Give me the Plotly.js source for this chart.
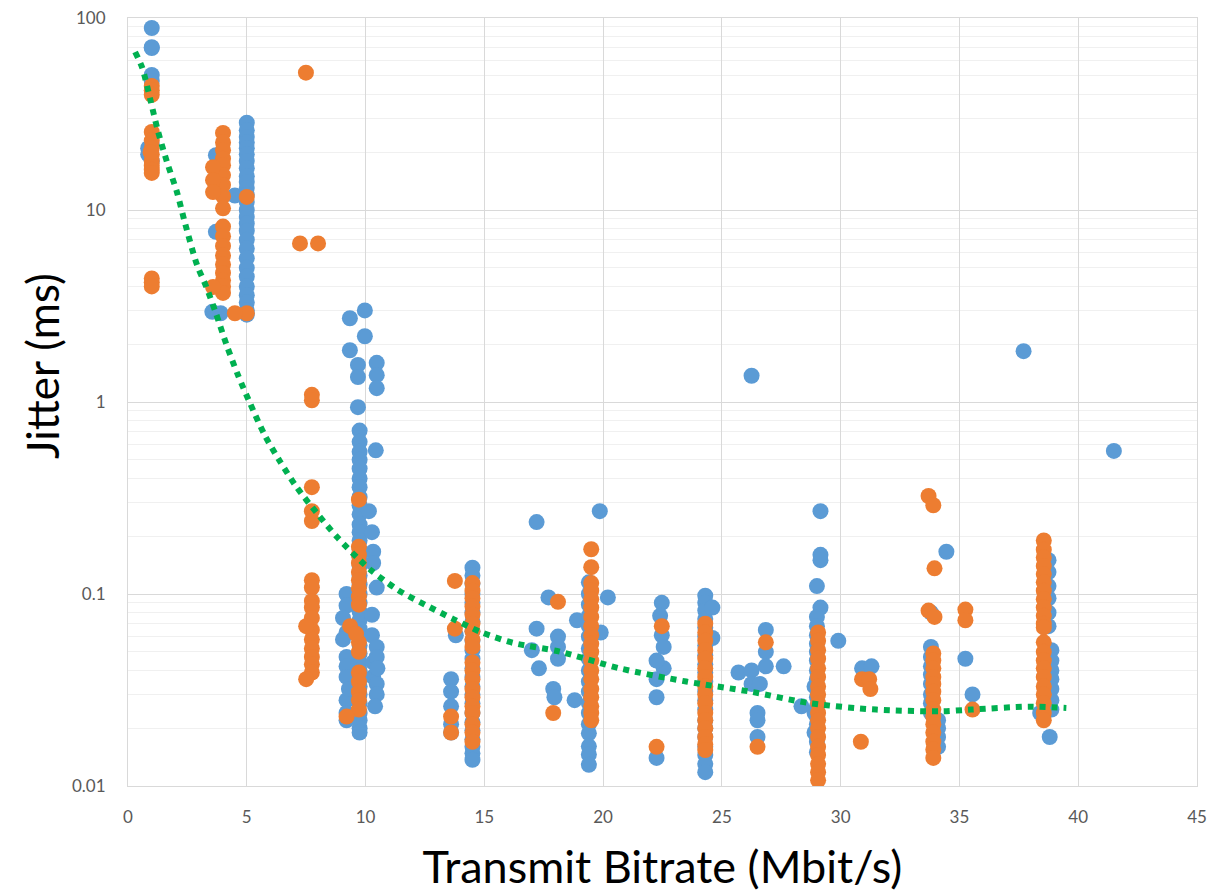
<!DOCTYPE html>
<html>
<head>
<meta charset="utf-8">
<script src="https://cdn.plot.ly/plotly-3.0.1.min.js"></script>
<style>html,body{margin:0;padding:0;background:#fff;}#chart{width:1230px;height:893px;}</style>
</head>
<body>
<div id="chart"></div>
<script>
// ---------- Data ----------
// Series 1 (blue): [x, list of y] groups
const blueGroups = [
  [1.0, [88.7, 69.8, 70.5, 50.5, 47]],
  [0.85, [21, 19.5]],
  [1.0, [22, 18]],
  [3.7, [19.3, 7.7]],
  [3.55, [2.95]],
  [3.9, [2.9]],
  [4.5, [11.9]],
  [5.0, [28.5, 26, 24, 22.5, 21, 19.5, 18, 16.5, 15, 14, 13, 12, 11, 10, 9.2, 8.5, 7.8, 7, 6.3, 5.6, 5, 4.5, 4, 3.6, 3.3, 3.0, 2.85]],
  [9.34, [2.73, 1.86]],
  [9.97, [3.0, 2.2]],
  [9.68, [1.56, 1.35, 0.94]],
  [10.47, [1.6, 1.38, 1.18]],
  [10.43, [0.56]],
  [9.75, [0.71, 0.62, 0.55, 0.5, 0.45, 0.4, 0.36, 0.32, 0.29, 0.26, 0.23, 0.21, 0.19, 0.17, 0.155, 0.14, 0.125, 0.112, 0.1, 0.09, 0.081, 0.073, 0.066, 0.06, 0.054, 0.049, 0.044, 0.04, 0.036, 0.033, 0.03, 0.027, 0.024, 0.022, 0.02, 0.019]],
  [9.2, [0.1, 0.087, 0.063, 0.047, 0.042, 0.037, 0.028, 0.024, 0.022]],
  [9.05, [0.075, 0.058]],
  [9.3, [0.032]],
  [10.14, [0.27]],
  [10.27, [0.21, 0.078, 0.061]],
  [10.32, [0.166, 0.145, 0.044, 0.037]],
  [10.47, [0.108, 0.053, 0.047, 0.034, 0.03]],
  [10.5, [0.041]],
  [10.4, [0.026]],
  [13.8, [0.061]],
  [13.6, [0.036, 0.031, 0.026, 0.021, 0.019]],
  [14.5, [0.137, 0.125, 0.113, 0.1, 0.09, 0.08, 0.072, 0.064, 0.057, 0.051, 0.046, 0.041, 0.037, 0.033, 0.03, 0.027, 0.024, 0.0215, 0.0195, 0.0175, 0.016, 0.0148, 0.0137]],
  [17.2, [0.237, 0.066]],
  [19.86, [0.27]],
  [20.2, [0.096]],
  [17.7, [0.096]],
  [17.0, [0.051]],
  [17.3, [0.041]],
  [18.1, [0.06, 0.053, 0.046]],
  [17.9, [0.032]],
  [17.95, [0.029]],
  [18.9, [0.073]],
  [18.8, [0.028]],
  [19.9, [0.063]],
  [19.4, [0.115, 0.1, 0.088, 0.077, 0.068, 0.06, 0.052, 0.046, 0.04, 0.035, 0.031, 0.027, 0.024, 0.021, 0.0188, 0.0161, 0.0146, 0.0129]],
  [22.47, [0.09, 0.061]],
  [22.4, [0.077]],
  [22.55, [0.053, 0.041]],
  [22.25, [0.045, 0.036, 0.029, 0.014]],
  [24.3, [0.098, 0.09, 0.082, 0.074, 0.067, 0.06, 0.054, 0.048, 0.043, 0.039, 0.035, 0.031, 0.028, 0.025, 0.022, 0.02, 0.018, 0.016, 0.0145, 0.013, 0.0118]],
  [24.6, [0.059, 0.085]],
  [25.7, [0.039]],
  [26.25, [0.04, 0.034, 1.37]],
  [26.6, [0.034]],
  [26.85, [0.065, 0.05, 0.042]],
  [27.6, [0.042]],
  [26.5, [0.024, 0.022, 0.018]],
  [29.15, [0.27, 0.16, 0.15, 0.085]],
  [29.0, [0.11, 0.076, 0.068, 0.061, 0.055, 0.05, 0.045, 0.04, 0.036, 0.032, 0.029, 0.026, 0.023, 0.021, 0.019, 0.017, 0.015]],
  [28.9, [0.033, 0.024, 0.019]],
  [29.9, [0.057]],
  [28.35, [0.026]],
  [30.9, [0.041]],
  [31.3, [0.042]],
  [34.45, [0.166]],
  [33.8, [0.08, 0.053, 0.047, 0.042, 0.038, 0.034, 0.03, 0.027, 0.024]],
  [34.1, [0.022, 0.02, 0.018, 0.016]],
  [35.25, [0.046]],
  [35.55, [0.03]],
  [38.75, [0.15, 0.13, 0.11, 0.095, 0.08, 0.068]],
  [38.87, [0.051, 0.045, 0.04, 0.036, 0.032, 0.028, 0.025]],
  [38.4, [0.024]],
  [38.8, [0.018]],
  [37.7, [1.84]],
  [41.5, [0.556]]
];

// Series 2 (orange): [x, list of y] groups
const orangeGroups = [
  [1.0, [44.3, 42, 39.8, 25.5, 23, 21, 19.5, 18, 17, 16.2, 15.6, 4.4, 4.2, 4.0]],
  [0.95, [20]],
  [4.0, [25.2, 22.5, 20.5, 18.5, 17.1, 15.2, 13.5, 11.8, 10.2, 8.2, 7.3, 6.5, 5.8, 5.2, 4.7, 4.3, 4.0, 3.7]],
  [3.58, [16.7, 14.3, 12.4, 3.97]],
  [5.0, [11.7, 2.9]],
  [4.5, [2.9]],
  [7.49, [51.9]],
  [7.24, [6.7]],
  [8.0, [6.7]],
  [7.74, [1.09, 1.02, 0.36, 0.27, 0.24, 0.118, 0.108, 0.092, 0.085, 0.075, 0.065, 0.058, 0.052, 0.047, 0.043, 0.039]],
  [7.5, [0.068, 0.036]],
  [9.72, [0.31, 0.176, 0.16, 0.145, 0.13, 0.118, 0.107, 0.097, 0.088, 0.056, 0.05, 0.039, 0.035, 0.031, 0.028, 0.025]],
  [9.35, [0.068]],
  [9.6, [0.062]],
  [9.2, [0.023]],
  [13.76, [0.117, 0.066]],
  [13.6, [0.023, 0.019]],
  [14.5, [0.114, 0.104, 0.095, 0.086, 0.078, 0.07, 0.064, 0.058, 0.053, 0.044, 0.04, 0.036, 0.032, 0.029, 0.026, 0.024, 0.021, 0.019, 0.017]],
  [18.1, [0.091]],
  [17.9, [0.024]],
  [19.5, [0.171, 0.138, 0.114, 0.104, 0.094, 0.085, 0.076, 0.068, 0.061, 0.055, 0.05, 0.045, 0.04, 0.036, 0.032, 0.029, 0.026, 0.024, 0.022]],
  [22.47, [0.068]],
  [22.25, [0.016]],
  [24.3, [0.07, 0.063, 0.057, 0.051, 0.046, 0.041, 0.037, 0.033, 0.03, 0.027, 0.024, 0.022, 0.02, 0.018, 0.0165, 0.0154]],
  [26.85, [0.056]],
  [26.5, [0.016]],
  [29.05, [0.063, 0.057, 0.051, 0.046, 0.041, 0.037, 0.033, 0.03, 0.027, 0.024, 0.022, 0.02, 0.018, 0.016, 0.0145, 0.013, 0.0118, 0.0107]],
  [30.9, [0.036]],
  [31.2, [0.036]],
  [31.25, [0.032]],
  [30.85, [0.017]],
  [33.7, [0.324, 0.082]],
  [33.9, [0.29]],
  [33.95, [0.136, 0.076]],
  [33.9, [0.049, 0.045, 0.041, 0.037, 0.034, 0.031, 0.028, 0.025, 0.023, 0.021, 0.019, 0.017, 0.0155, 0.014]],
  [35.25, [0.083, 0.073]],
  [35.55, [0.025]],
  [38.55, [0.19, 0.17, 0.155, 0.14, 0.127, 0.115, 0.104, 0.094, 0.085, 0.077, 0.07, 0.067, 0.056, 0.05, 0.045, 0.041, 0.037, 0.033, 0.03, 0.027, 0.024, 0.022]]
];

// Trendline (green dotted)
const trendX = [0.3, 0.6, 0.93, 1.26, 1.64, 2.06, 2.4, 2.9, 3.3, 3.7, 4.15, 4.63, 5.13, 5.76, 6.4, 7.1, 7.95, 8.8, 9.76, 10.26, 11.36, 12.5, 13.7, 14.9, 16.2, 18.2, 20.7, 23.5, 26.2, 28.7, 31.5, 34.2, 35.5, 37.9, 39.5];
const trendY = [66.5, 55, 38, 25.8, 17.8, 12.4, 8.55, 5.2, 3.97, 2.9, 1.98, 1.38, 0.99, 0.67, 0.49, 0.36, 0.264, 0.198, 0.15, 0.132, 0.105, 0.088, 0.074, 0.063, 0.0557, 0.05, 0.041, 0.035, 0.031, 0.027, 0.025, 0.0245, 0.025, 0.0259, 0.0255];

const yTickVals = [0.01, 0.1, 1, 10, 100];
const yTickText = ['0.01', '0.1', '1', '10', '100'];
const xTitle = 'Transmit Bitrate (Mbit/s)';
const yTitle = 'Jitter (ms)';

// ---------- Build ----------
function flatten(groups) {
  const xs = [], ys = [];
  groups.forEach(g => g[1].forEach(v => { xs.push(g[0]); ys.push(v); }));
  return {x: xs, y: ys};
}
const blue = flatten(blueGroups);
const orange = flatten(orangeGroups);

const minorVals = [];
[0.01, 0.1, 1, 10].forEach(d => { for (let k = 2; k <= 9; k++) minorVals.push(d * k); });

const font = "Lato, 'Open Sans', sans-serif";

const traces = [
  {x: blue.x, y: blue.y, type: 'scatter', mode: 'markers',
   marker: {color: '#5B9BD5', size: 16, line: {width: 0}}, hoverinfo: 'x+y'},
  {x: orange.x, y: orange.y, type: 'scatter', mode: 'markers',
   marker: {color: '#ED7D31', size: 16, line: {width: 0}}, hoverinfo: 'x+y'},
  {x: trendX, y: trendY, type: 'scatter', mode: 'lines',
   line: {color: '#00B050', width: 6, dash: 'dot', shape: 'spline', smoothing: 0.8}}
];

const layout = {
  width: 1230, height: 893,
  margin: {l: 128, r: 33, t: 18, b: 107},
  paper_bgcolor: '#fff', plot_bgcolor: '#fff',
  showlegend: false,
  font: {family: font, color: '#595959', size: 17},
  xaxis: {
    range: [0, 45], dtick: 5, tick0: 0,
    showgrid: true, gridcolor: '#D9D9D9', gridwidth: 1,
    showline: true, linecolor: '#D9D9D9', linewidth: 1, mirror: true,
    zeroline: false,
    ticks: 'outside', ticklen: 16, tickcolor: 'rgba(0,0,0,0)',
    tickfont: {family: font, size: 17, color: '#595959'},
    title: {text: xTitle, font: {family: font, size: 45, color: '#000'}, standoff: 32}
  },
  yaxis: {
    type: 'log', range: [-2, 2],
    tickmode: 'array', tickvals: yTickVals, ticktext: yTickText,
    showgrid: true, gridcolor: '#D9D9D9', gridwidth: 1,
    minor: {tickmode: 'array', tickvals: minorVals, showgrid: true, gridcolor: '#F0F0F0', gridwidth: 1, ticks: ''},
    showline: true, linecolor: '#D9D9D9', linewidth: 1, mirror: true,
    zeroline: false,
    ticks: 'outside', ticklen: 18, tickcolor: 'rgba(0,0,0,0)',
    tickfont: {family: font, size: 17, color: '#595959'}
  },
  annotations: [{
    text: yTitle, textangle: -90, showarrow: false,
    xref: 'paper', yref: 'paper', x: -0.0804, y: 0.547,
    xanchor: 'center', yanchor: 'middle',
    font: {family: font, size: 44, color: '#000'}
  }]
};

Plotly.newPlot('chart', traces, layout, {staticPlot: true, displayModeBar: false});
</script>
</body>
</html>
